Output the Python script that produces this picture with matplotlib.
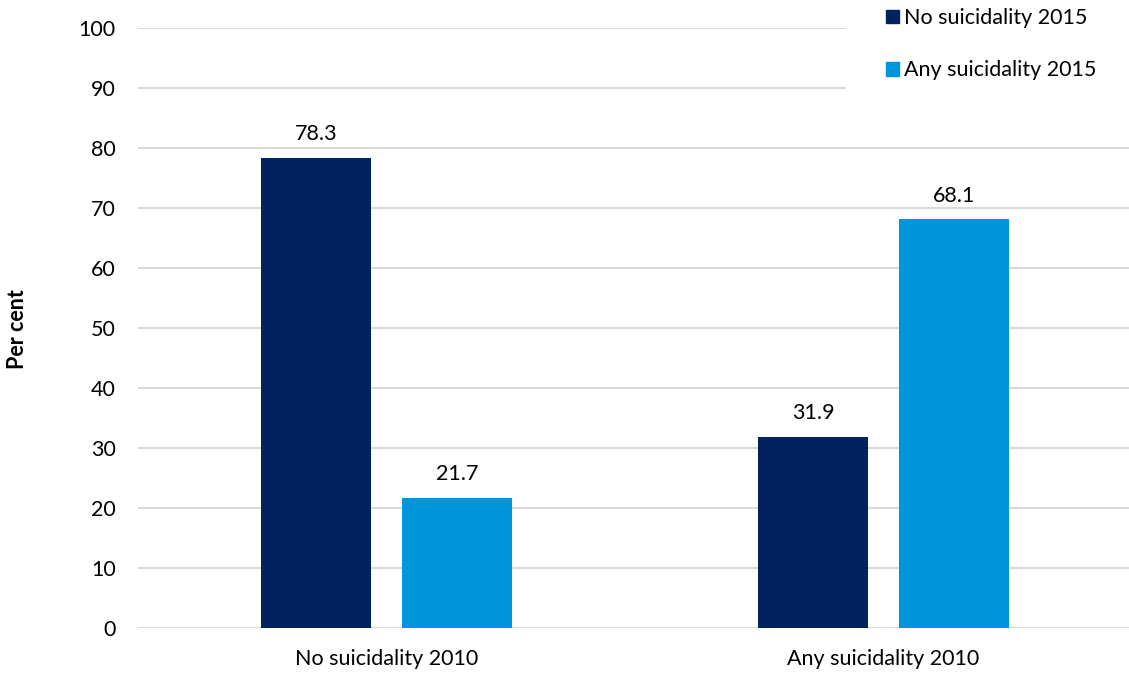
import matplotlib.pyplot as plt
import numpy as np
from matplotlib.patches import Patch, Rectangle

# data
categories = ['No suicidality 2010', 'Any suicidality 2010']
series_names = ['No suicidality 2015', 'Any suicidality 2015']
no_2015 = [78.3, 31.9]
any_2015 = [21.7, 68.1]
colors = ['#002360', '#0096DC']

plt.rcParams['font.family'] = ['Lato', 'DejaVu Sans']
fs = 15.5

fig = plt.figure(figsize=(11.29, 6.75), dpi=100)
ax = fig.add_axes([138 / 1129, 47 / 675, 991 / 1129, 600 / 675])

x = np.arange(len(categories))
w = 0.223
off = 0.142
b1 = ax.bar(x - off, no_2015, w, color=colors[0], zorder=3)
b2 = ax.bar(x + off, any_2015, w, color=colors[1], zorder=3)

for bars, vals in [(b1, no_2015), (b2, any_2015)]:
    for r, v in zip(bars, vals):
        ax.annotate(f'{v:.1f}', (r.get_x() + r.get_width() / 2, v),
                    xytext=(0, 10), textcoords='offset points',
                    ha='center', va='bottom', fontsize=fs, color='#000000')

ax.set_ylim(0, 100)
ax.set_xlim(-0.5, -0.5 + 991 / 497)
ax.set_yticks(range(0, 101, 10))
ax.set_xticks(x)
ax.set_xticklabels(categories)
ax.tick_params(axis='both', length=0, labelsize=fs)
ax.tick_params(axis='y', pad=16)
ax.tick_params(axis='x', pad=15)
ax.grid(axis='y', color='#D9D9D9', linewidth=1.5, zorder=0)
for s in ax.spines.values():
    s.set_visible(False)

fig.text(18 / 1129, 0.5 + 8 / 675, 'Per cent', rotation=90, fontsize=fs,
         fontweight='bold', ha='center', va='center')

# white box behind the legend, hides the gridlines
fig.patches.append(Rectangle((846 / 1129, 1 - 93 / 675), 1, 93 / 675,
                             transform=fig.transFigure, color='white', zorder=4))

handles = [Patch(color=colors[0]), Patch(color=colors[1])]
leg = fig.legend(handles, series_names, loc='upper left',
                 bbox_to_anchor=(884 / 1129, 1 - 6 / 675), borderaxespad=0,
                 fontsize=fs, handlelength=0.6, handleheight=0.6,
                 handletextpad=0.25, labelspacing=1.5, borderpad=0.1,
                 frameon=False)
leg.set_zorder(5)
for t in leg.get_texts():
    t.set_color('#000000')

fig.savefig('out.png', dpi=100)
